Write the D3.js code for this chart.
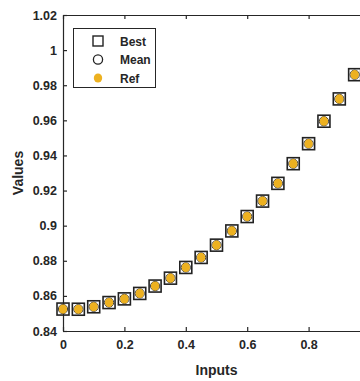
<!DOCTYPE html>
<html>
<head>
<meta charset="utf-8">
<script src="https://cdn.jsdelivr.net/npm/d3@7/dist/d3.min.js"></script>
<style>
  body { margin: 0; background: #fff; }
  text { font-family: "Liberation Sans", Arial, sans-serif; font-weight: bold; fill: #262626; }
</style>
</head>
<body>
<div id="chart"></div>
<script>
// data
const inputs = [0, 0.05, 0.1, 0.15, 0.2, 0.25, 0.3, 0.35, 0.4, 0.45,
                0.5, 0.55, 0.6, 0.65, 0.7, 0.75, 0.8, 0.85, 0.9, 0.95];
const bestVals = [0.8525, 0.8524, 0.8538, 0.8562, 0.8583, 0.8614, 0.8656, 0.8701, 0.8762, 0.8819,
                  0.8889, 0.8970, 0.9052, 0.9140, 0.9241, 0.9353, 0.9467, 0.9595, 0.9722, 0.9860];
const meanVals = bestVals.slice();
const refVals = bestVals.slice();
// the 1.0 tick falls outside the window in the picture
const xTicks = [0, 0.2, 0.4, 0.6, 0.8];
const yTicks = [0.84, 0.86, 0.88, 0.9, 0.92, 0.94, 0.96, 0.98, 1, 1.02];
const legendNames = ["Best", "Mean", "Ref"];

const W = 360, H = 381;
const orange = "#EDB120";
const ink = "#262626";

const svg = d3.select("#chart").append("svg")
  .attr("width", W).attr("height", H);

const x = d3.scaleLinear().domain([0, 1]).range([63, 370]);
const y = d3.scaleLinear().domain([0.84, 1.02]).range([331, 15]);
const fmt = d3.format("~g");

// axes
const gx = svg.append("g").attr("transform", `translate(0,${y.range()[0]})`)
  .call(d3.axisBottom(x).tickValues(xTicks).tickFormat(fmt).tickSizeInner(-4).tickSizeOuter(0).tickPadding(9));
const gy = svg.append("g").attr("transform", `translate(${x.range()[0]},0)`)
  .call(d3.axisLeft(y).tickValues(yTicks).tickFormat(fmt).tickSizeInner(-4).tickSizeOuter(0).tickPadding(6));
const gt = svg.append("g").attr("transform", `translate(0,${y.range()[1]})`)
  .call(d3.axisTop(x).tickValues(xTicks).tickFormat("").tickSizeInner(-4).tickSizeOuter(0));

[gx, gy, gt].forEach(g => {
  g.selectAll("path, line").attr("stroke", ink).attr("stroke-width", 1.2);
  g.selectAll("text").attr("font-size", 12.5)
    .style("font-family", "'Liberation Sans', Arial, sans-serif")
    .style("font-weight", "bold").attr("fill", ink);
});

// axis titles
svg.append("text").attr("x", (x.range()[0] + x.range()[1]) / 2).attr("y", 375)
  .attr("text-anchor", "middle").attr("font-size", 14).text("Inputs");
svg.append("text")
  .attr("transform", `translate(23,${(y.range()[0] + y.range()[1]) / 2}) rotate(-90)`)
  .attr("text-anchor", "middle").attr("font-size", 14).text("Values");

// markers
const sq = 12;
svg.append("g").selectAll("rect").data(inputs).join("rect")
  .attr("x", (d) => x(d) - sq / 2).attr("y", (d, i) => y(bestVals[i]) - sq / 2)
  .attr("width", sq).attr("height", sq)
  .attr("fill", "none").attr("stroke", "#222").attr("stroke-width", 1.6);
svg.append("g").selectAll("circle").data(inputs).join("circle")
  .attr("cx", (d) => x(d)).attr("cy", (d, i) => y(meanVals[i])).attr("r", 4.6)
  .attr("fill", "none").attr("stroke", "#333").attr("stroke-width", 1);
svg.append("g").selectAll("ellipse").data(inputs).join("ellipse")
  .attr("cx", (d) => x(d)).attr("cy", (d, i) => y(refVals[i]))
  .attr("rx", 4.2).attr("ry", 4.6).attr("fill", orange);

// legend
const lg = svg.append("g");
lg.append("rect").attr("x", 73.5).attr("y", 28.5).attr("width", 82).attr("height", 59)
  .attr("fill", "#fff").attr("stroke", ink).attr("stroke-width", 1);
legendNames.forEach((name, i) => {
  const cy = 41 + i * 18.5;
  if (i === 0) {
    lg.append("rect").attr("x", 98 - 5).attr("y", cy - 5).attr("width", 10).attr("height", 10)
      .attr("fill", "none").attr("stroke", "#222").attr("stroke-width", 1.4);
  } else if (i === 1) {
    lg.append("circle").attr("cx", 98).attr("cy", cy).attr("r", 4.6)
      .attr("fill", "none").attr("stroke", "#222").attr("stroke-width", 1.3);
  } else {
    lg.append("ellipse").attr("cx", 98).attr("cy", cy).attr("rx", 4.2).attr("ry", 4.6)
      .attr("fill", orange);
  }
  lg.append("text").attr("x", 120).attr("y", cy + 4.5).attr("font-size", 12).text(name);
});
</script>
</body>
</html>
